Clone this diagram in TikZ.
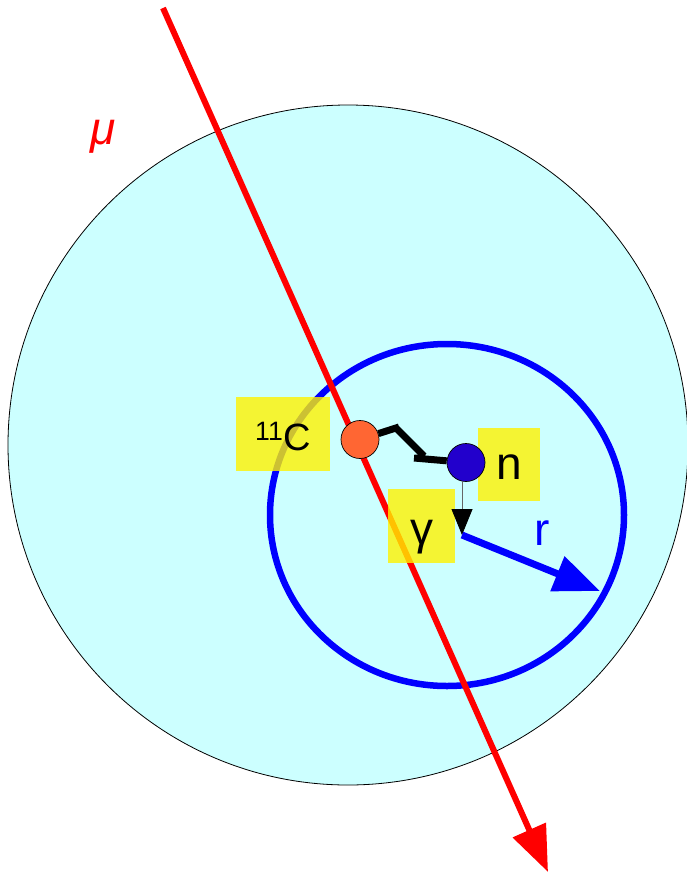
\documentclass[tikz,border=0pt]{standalone}
\usepackage{fontspec}
\setmainfont{Liberation Sans}
\usetikzlibrary{arrows.meta}

\definecolor{tankcyan}{RGB}{204,255,255}
\definecolor{carbonorange}{RGB}{255,102,51}
\definecolor{neutronblue}{RGB}{34,0,204}

\begin{document}
\begin{tikzpicture}[x=1pt,y=-1pt,>=Latex,
  tag/.style={fill=yellow,fill opacity=0.8,text opacity=1,inner sep=0pt,minimum height=74pt,text depth=0pt,font=\fontsize{46}{50}\selectfont},
  ball/.style={circle,draw=black,line width=0.7pt,minimum size=38pt,inner sep=0pt}]
\useasboundingbox (0,0) rectangle (686,873);
\node[circle,draw=black,line width=0.8pt,fill=tankcyan,minimum size=680pt,inner sep=0pt] (tank) at (348,445) {};
\draw[blue,line width=6.5pt] (447,515) ellipse [x radius=177pt,y radius=171pt];
% muon track
\coordinate (mu_in) at (163,8);
\coordinate (mu_out) at (548,872);
\draw[red,line width=6pt,-{Triangle[length=46pt,width=35pt]}] (mu_in) -- (mu_out);
\node[text=red,font=\fontsize{46}{50}\selectfont\itshape] (mu) at (103,137) {μ};
% labels
\node[tag,minimum width=94pt,text height=32pt,font=\fontsize{38}{42}\selectfont] (c11_tag) at (283,434) {\textsuperscript{11}C};
\node[tag,minimum width=62pt,minimum height=73pt,text height=29pt] (n_tag) at (509,464.5) {n};
\node[tag,minimum width=67pt,text height=36pt] (gamma_tag) at (421.5,526) {γ};
% particles
\node[ball,fill=carbonorange] (c11) at (360,439.5) {};
\node[ball,fill=neutronblue] (n) at (466,462.5) {};
\draw[line width=7pt] (c11) -- (399,427) (396,428) -- (424,456) (414,458) -- (n);
\coordinate (gamma_pt) at (462,535);
\draw[black!60,line width=0.8pt,-{Triangle[length=26pt,width=21pt,color=black]}] (n.south -| gamma_pt) -- (gamma_pt);
\coordinate (r_tip) at (600,591);
\draw[blue,line width=7pt,-{Triangle[length=46pt,width=36pt]}] (gamma_pt) -- (r_tip);
\node[text=blue,font=\fontsize{46}{50}\selectfont] (r_lbl) at (542,533) {r};
\end{tikzpicture}
\end{document}
